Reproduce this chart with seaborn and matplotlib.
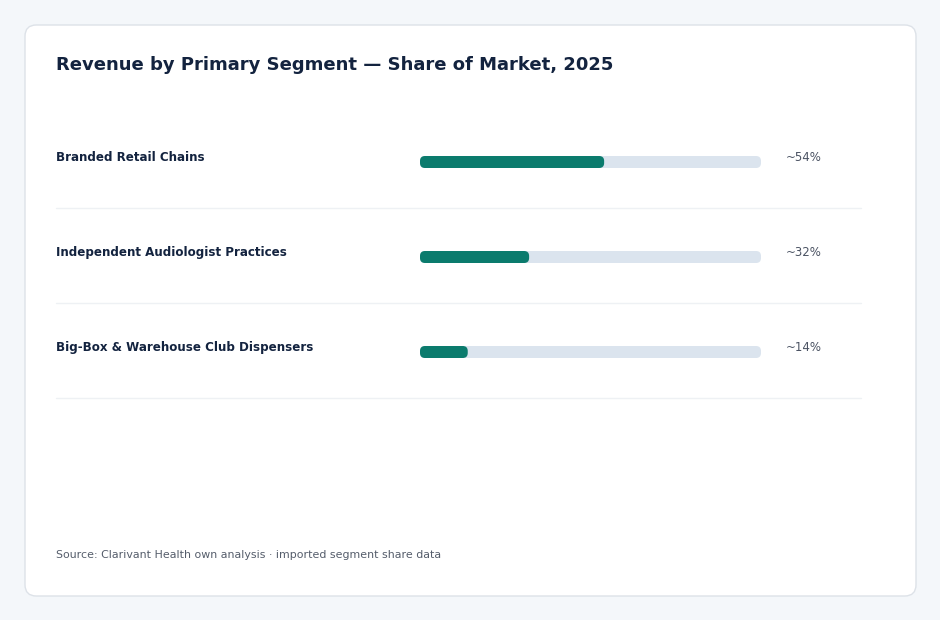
import matplotlib
matplotlib.use("Agg")
import matplotlib.pyplot as plt
import matplotlib.transforms as mtransforms
from matplotlib.patches import FancyBboxPatch
import pandas as pd
import seaborn as sns

# Data
segments = ["Branded Retail Chains",
            "Independent Audiologist Practices",
            "Big-Box & Warehouse Club Dispensers"]
shares = [54, 32, 14]
share_labels = ["~54%", "~32%", "~14%"]
scale_max = 100

title = "Revenue by Primary Segment \u2014 Share of Market, 2025"
source = "Source: Clarivant Health own analysis \u00b7 imported segment share data"

df = pd.DataFrame({"segment": segments, "share": shares,
                   "track": [scale_max] * len(segments)})

sns.set_theme(style="white")
plt.rcParams["font.family"] = ["DejaVu Sans"]

W, H = 940, 620
fig = plt.figure(figsize=(W / 100, H / 100), dpi=100)
fig.patch.set_facecolor("#f4f7fa")

# card background (behind the axes)
card = FancyBboxPatch((25 / W, 1 - 596 / H), 891 / W, 571 / H,
                      boxstyle="round,pad=0,rounding_size=0.012",
                      mutation_aspect=W / H,
                      transform=fig.transFigure, facecolor="white",
                      edgecolor="#dde2e8", linewidth=1, zorder=-5)
fig.patches.append(card)

ax = fig.add_axes([420 / W, 1 - 399.5 / H, 341 / W, 285 / H])
ax.set_facecolor("none")
ax.set_zorder(1)

bar_h = 12 / 95
sns.barplot(data=df, x="track", y="segment", color="#dbe4ee",
            width=bar_h, ax=ax, saturation=1)
sns.barplot(data=df, x="share", y="segment", color="#0b7b6d",
            width=bar_h, ax=ax, saturation=1)

ax.set_xlim(0, scale_max)
ax.set_ylim(len(segments) - 0.5, -0.5)

# replace bars with rounded versions
px_x = scale_max / 341
px_y = 1 / 95
for p in list(ax.patches):
    x0, y0, w, h = p.get_x(), p.get_y(), p.get_width(), p.get_height()
    r = 5 * px_x
    rb = FancyBboxPatch((x0, y0), w, h,
                        boxstyle=f"round,pad=0,rounding_size={r}",
                        mutation_aspect=px_y / px_x,
                        facecolor=p.get_facecolor(), edgecolor="none",
                        zorder=p.get_zorder())
    p.remove()
    ax.add_patch(rb)

ax.set_xlabel("")
ax.set_ylabel("")
ax.set_xticks([])
ax.set_yticks([])
sns.despine(ax=ax, left=True, bottom=True)

fig_data = mtransforms.blended_transform_factory(fig.transFigure, ax.transData)
axes_data = mtransforms.blended_transform_factory(ax.transAxes, ax.transData)

for i, (seg, lab) in enumerate(zip(segments, share_labels)):
    ax.text(56 / W, i - 5 * px_y, seg, transform=fig_data,
            ha="left", va="center", fontsize=8.6, fontweight="bold",
            color="#13233f")
    ax.text(366 / 341, i - 5 * px_y, lab, transform=axes_data,
            ha="left", va="center", fontsize=8.5, color="#4a5262")
    ax.plot([56 / W, 861 / W], [i + 0.485, i + 0.485], transform=fig_data,
            color="#eef1f4", linewidth=1, clip_on=False)

fig.text(56 / W, 1 - 65 / H, title, ha="left", va="center",
         fontsize=13, fontweight="bold", color="#13233f")
fig.text(56 / W, 1 - 555 / H, source, ha="left", va="center",
         fontsize=7.9, color="#555d6b")

fig.savefig("out.png", dpi=100, facecolor=fig.get_facecolor())
